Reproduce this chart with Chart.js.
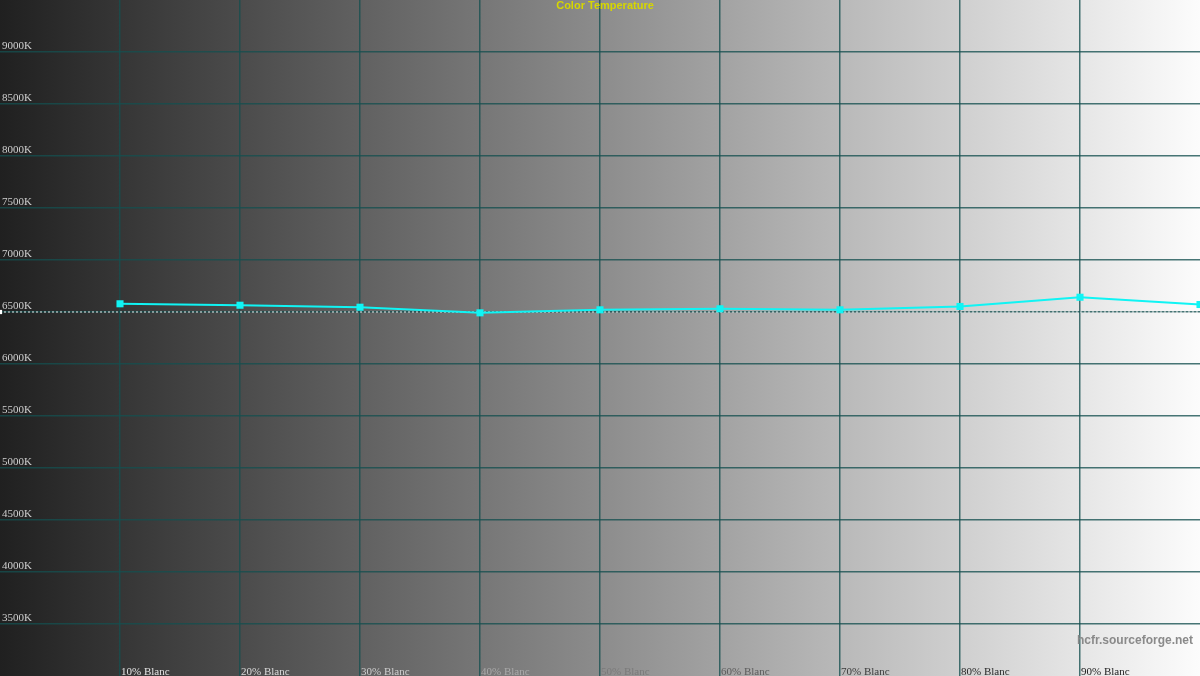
<!DOCTYPE html>
<html>
<head>
<meta charset="utf-8">
<script src="https://cdn.jsdelivr.net/npm/chart.js@4.4.1/dist/chart.umd.min.js"></script>
<style>
  html, body { margin:0; padding:0; background:#222; overflow:hidden; }
  #wrap { width:1200px; height:676px; position:relative; }
</style>
</head>
<body>
<div id="wrap"><canvas id="c"></canvas></div>
<script>
const levels = [10, 20, 30, 40, 50, 60, 70, 80, 90, 100];
const colorTemp = [6579, 6565, 6546, 6492, 6521, 6531, 6521, 6553, 6642, 6572];
const targetLevels = [0, 100];
const targetTemp = [6500, 6500];

const xTickValues = [10, 20, 30, 40, 50, 60, 70, 80, 90];
const xTickLabels = ['10% Blanc','20% Blanc','30% Blanc','40% Blanc','50% Blanc','60% Blanc','70% Blanc','80% Blanc','90% Blanc'];
const yTickValues = [9000, 8500, 8000, 7500, 7000, 6500, 6000, 5500, 5000, 4500, 4000, 3500];

const X_MIN = 0, X_MAX = 100, Y_MIN = 3000, Y_MAX = 9500;

const xLabelColors = ['#e4e4e4','#dadada','#cecece','#a9a9a9','#7a7a7a','#5c5c5c','#3c3c3c','#2a2a2a','#222'];
const GRID = 'rgba(20,80,80,.78)';

const backdrop = {
  id: 'backdrop',
  beforeDraw(chart){
    const { ctx, width, height } = chart;
    const g = ctx.createLinearGradient(0, 0, width, 0);
    g.addColorStop(0, '#202020');
    g.addColorStop(0.5, '#8c8c8c');
    g.addColorStop(1, '#fcfcfc');
    ctx.save();
    ctx.fillStyle = g;
    ctx.fillRect(0, 0, width, height);
    ctx.restore();
  },
};

const texts = {
  id: 'texts',
  afterDraw(chart){
    const { ctx, width, height } = chart;
    const xs = chart.scales.x, ys = chart.scales.y;
    ctx.save();
    // y labels, sitting just above their grid line
    ctx.font = '11px "Liberation Serif", serif';
    ctx.textAlign = 'left';
    ctx.textBaseline = 'alphabetic';
    ctx.fillStyle = '#cfcfcf';
    yTickValues.forEach(v => {
      ctx.fillText(`${v}K`, 2, ys.getPixelForValue(v) - 3);
    });
    // x labels at the bottom, left aligned on the grid line
    xTickValues.forEach((v, i) => {
      ctx.fillStyle = xLabelColors[i];
      ctx.fillText(xTickLabels[i], xs.getPixelForValue(v) + 1, height - 1);
    });
    // title
    ctx.font = 'bold 11px "Liberation Sans", Arial, sans-serif';
    ctx.textAlign = 'center';
    ctx.textBaseline = 'middle';
    ctx.fillStyle = '#d6d600';
    ctx.fillText('Color Temperature', 605, 6);
    // watermark
    ctx.font = 'bold 12px "Liberation Sans", Arial, sans-serif';
    ctx.textAlign = 'right';
    ctx.fillStyle = '#8a8a8a';
    ctx.fillText('hcfr.sourceforge.net', width - 7, 641);
    ctx.restore();
  },
};

new Chart(document.getElementById('c'), {
  type: 'line',
  data: {
    datasets: [
      {
        label: 'Temperature',
        data: levels.map((x, i) => ({ x, y: colorTemp[i] })),
        borderColor: '#10f4f4',
        backgroundColor: '#10f4f4',
        borderWidth: 2,
        tension: 0,
        pointStyle: 'rect',
        pointRadius: 5,
        pointBorderWidth: 0,
        clip: false,
      },
      {
        label: 'Reference',
        data: targetLevels.map((x, i) => ({ x, y: targetTemp[i] })),
        borderColor: 'rgba(255,255,255,.9)',
        backgroundColor: '#fff',
        borderWidth: 1,
        borderDash: [2, 2],
        pointStyle: 'rect',
        pointRadius: [3, 0],
        pointBorderWidth: 0,
      },
    ],
  },
  options: {
    responsive: true,
    maintainAspectRatio: false,
    animation: false,
    layout: { padding: 0, autoPadding: false },
    plugins: { legend: { display:false }, tooltip: { enabled:false }, title: { display:false } },
    scales: {
      x: {
        type: 'linear',
        min: X_MIN, max: X_MAX,
        ticks: { display:false, stepSize:10 },
        border: { display:false },
        grid: {
          drawTicks: false,
          lineWidth: 1.5,
          color: (c) => (c.tick && (c.tick.value === X_MIN || c.tick.value === X_MAX)) ? 'rgba(0,0,0,0)' : GRID,
        },
        afterFit: (s) => { s.height = 0; },
      },
      y: {
        type: 'linear',
        min: Y_MIN, max: Y_MAX,
        ticks: { display:false, stepSize:500 },
        border: { display:false },
        grid: {
          drawTicks: false,
          lineWidth: 1.5,
          color: (c) => (c.tick && (c.tick.value === Y_MIN || c.tick.value === Y_MAX)) ? 'rgba(0,0,0,0)' : GRID,
        },
        afterFit: (s) => { s.width = 0; },
      },
    },
  },
  plugins: [backdrop, texts],
});
</script>
</body>
</html>
